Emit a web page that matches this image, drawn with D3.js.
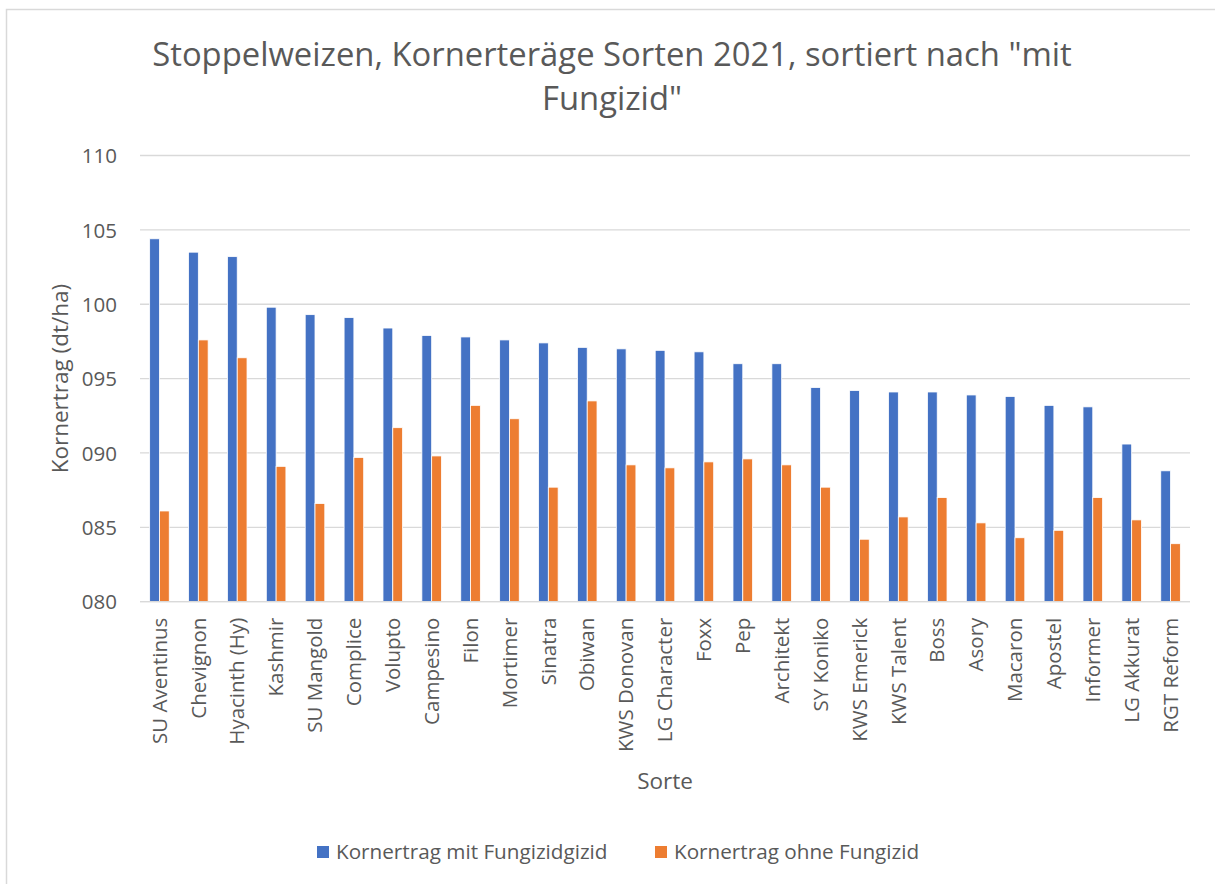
<!DOCTYPE html>
<html>
<head>
<meta charset="utf-8">
<script src="https://cdn.jsdelivr.net/npm/d3@7"></script>
<style>
    body { margin: 0; background: #fff; }
    svg text { font-family: "Open Sans", "Noto Sans", sans-serif; fill: #595959; }
</style>
</head>
<body>
<script>
(function() {

    ////////////////////
    //   chart data   //
    ////////////////////
    var sorten = ["SU Aventinus", "Chevignon", "Hyacinth (Hy)", "Kashmir", "SU Mangold",
        "Complice", "Volupto", "Campesino", "Filon", "Mortimer", "Sinatra", "Obiwan",
        "KWS Donovan", "LG Character", "Foxx", "Pep", "Architekt", "SY Koniko",
        "KWS Emerick", "KWS Talent", "Boss", "Asory", "Macaron", "Apostel", "Informer",
        "LG Akkurat", "RGT Reform"];
    var mitFungizid = [104.4, 103.5, 103.2, 99.8, 99.3, 99.1, 98.4, 97.9, 97.8, 97.6,
        97.4, 97.1, 97.0, 96.9, 96.8, 96.0, 96.0, 94.4, 94.2, 94.1, 94.1, 93.9, 93.8,
        93.2, 93.1, 90.6, 88.8];
    var ohneFungizid = [86.1, 97.6, 96.4, 89.1, 86.6, 89.7, 91.7, 89.8, 93.2, 92.3,
        87.7, 93.5, 89.2, 89.0, 89.4, 89.6, 89.2, 87.7, 84.2, 85.7, 87.0, 85.3, 84.3,
        84.8, 87.0, 85.5, 83.9];
    var seriesNames = ["Kornertrag mit Fungizidgizid", "Kornertrag ohne Fungizid"];
    var seriesColors = ["#4472C4", "#ED7D31"];
    var yTicks = [80, 85, 90, 95, 100, 105, 110];

    // frame
    var width = 1215,
        height = 884,
        left = 140,
        right = 1190,
        top = 155.5,
        bottom = 601.7;

    var svg = d3.select("body")
        .append("svg")
        .attr("width", width)
        .attr("height", height);

    // outer chart border (only top and left visible)
    svg.append("path")
        .attr("d", "M6.5," + (height + 5) + "V9.5H" + (width + 5))
        .attr("fill", "none")
        .attr("stroke", "#d9d9d9")
        .attr("stroke-width", 1.5);

    var x0 = d3.scaleBand()
        .domain(sorten)
        .range([left, right])
        .paddingInner(0)
        .paddingOuter(0);

    var x1 = d3.scaleBand()
        .domain([0, 1])
        .range([0, 19.6]);

    var y = d3.scaleLinear()
        .domain([80, 110])
        .range([bottom, top]);

    // gridlines
    svg.append("g")
        .selectAll("line")
        .data(yTicks)
        .enter()
        .append("line")
        .attr("x1", left)
        .attr("x2", right)
        .attr("y1", function(d) { return y(d); })
        .attr("y2", function(d) { return y(d); })
        .attr("stroke", "#d9d9d9")
        .attr("stroke-width", 1.3);

    // y axis labels
    var yAxis = d3.axisLeft(y)
        .tickValues(yTicks)
        .tickSize(0)
        .tickPadding(0)
        .tickFormat(function(d) { return d3.format("03d")(d); });

    var yG = svg.append("g")
        .attr("transform", "translate(117,0)")
        .call(yAxis);
    yG.select(".domain").remove();
    yG.selectAll("text")
        .attr("font-size", 20.5)
        .attr("dy", "0.35em");

    // bars
    var groups = svg.append("g")
        .selectAll("g")
        .data(sorten)
        .enter()
        .append("g")
        .attr("transform", function(d) {
            return "translate(" + (x0(d) + x0.bandwidth() / 2 - 9.8) + ",0)";
        });

    groups.selectAll("rect")
        .data(function(d, i) { return [mitFungizid[i], ohneFungizid[i]]; })
        .enter()
        .append("rect")
        .attr("x", function(d, j) { return x1(j); })
        .attr("width", x1.bandwidth())
        .attr("y", function(d) { return y(d); })
        .attr("height", function(d) { return bottom - y(d); })
        .attr("fill", function(d, j) { return seriesColors[j]; })
        .attr("stroke", "#ffffff")
        .attr("stroke-width", 0.8);

    // baseline
    svg.append("line")
        .attr("x1", left)
        .attr("x2", right)
        .attr("y1", bottom)
        .attr("y2", bottom)
        .attr("stroke", "#d9d9d9")
        .attr("stroke-width", 1.3);

    // x axis labels, rotated
    var xAxis = d3.axisBottom(x0)
        .tickSize(0)
        .tickPadding(0);
    var xG = svg.append("g")
        .attr("transform", "translate(0," + bottom + ")")
        .call(xAxis);
    xG.select(".domain").remove();
    xG.selectAll("text")
        .attr("font-size", 20.5)
        .attr("transform", "rotate(-90)")
        .attr("text-anchor", "end")
        .attr("x", -16)
        .attr("y", 0)
        .attr("dy", "0.35em");

    // title
    var title = svg.append("text")
        .attr("x", 612)
        .attr("y", 66)
        .attr("text-anchor", "middle")
        .attr("font-size", 32.8);
    title.append("tspan")
        .attr("x", 612)
        .text('Stoppelweizen, Kornerteräge Sorten 2021, sortiert nach "mit');
    title.append("tspan")
        .attr("x", 612)
        .attr("dy", 44)
        .text('Fungizid"');

    // axis titles
    svg.append("text")
        .attr("transform", "translate(68," + ((top + bottom) / 2) + ") rotate(-90)")
        .attr("text-anchor", "middle")
        .attr("font-size", 22.5)
        .text("Kornertrag (dt/ha)");

    svg.append("text")
        .attr("x", 665)
        .attr("y", 789)
        .attr("text-anchor", "middle")
        .attr("font-size", 22.5)
        .text("Sorte");

    // legend
    var legendX = [317, 655];
    var legend = svg.append("g")
        .selectAll("g")
        .data(seriesNames)
        .enter()
        .append("g")
        .attr("transform", function(d, i) { return "translate(" + legendX[i] + ",846)"; });

    legend.append("rect")
        .attr("width", 12)
        .attr("height", 12)
        .attr("fill", function(d, i) { return seriesColors[i]; });

    legend.append("text")
        .attr("x", 19)
        .attr("y", 6)
        .attr("dy", "0.35em")
        .attr("font-size", 20.7)
        .text(function(d) { return d; });
})();
</script>
</body>
</html>
